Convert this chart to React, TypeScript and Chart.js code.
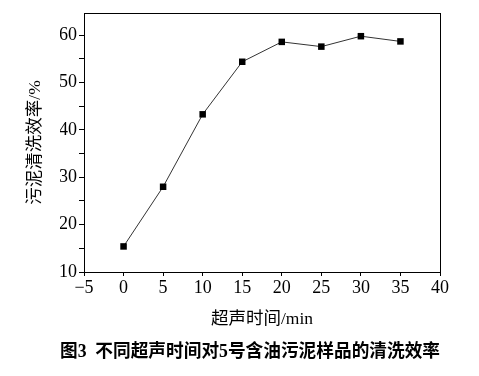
import React, { useEffect, useRef } from "react";
import { Chart, registerables } from "chart.js";

Chart.register(...registerables);

const times = [0, 5, 10, 15, 20, 25, 30, 35];
const efficiency = [15.4, 28.0, 43.3, 54.4, 58.6, 57.6, 59.8, 58.7];
const xTitle = "超声时间/min";
const yTitle = "污泥清洗效率/%";
const caption = "图3  不同超声时间对5号含油污泥样品的清洗效率";

const SERIF = '"Liberation Serif", "Noto Sans CJK SC", serif';
const CJK = '"Liberation Serif", "Noto Sans CJK SC", sans-serif';

export default function App() {
  const ref = useRef<HTMLCanvasElement | null>(null);

  useEffect(() => {
    if (!ref.current) return;
    const chart = new Chart(ref.current, {
      type: "line",
      data: {
        datasets: [
          {
            data: times.map((t, i) => ({ x: t, y: efficiency[i] })),
            borderColor: "#333",
            borderWidth: 1,
            pointStyle: "rect",
            pointRadius: 4.6,
            pointBackgroundColor: "#000",
            pointBorderColor: "#000",
            pointBorderWidth: 0,
            tension: 0,
          },
        ],
      },
      options: {
        animation: false,
        responsive: true,
        maintainAspectRatio: false,
        layout: { padding: { left: 60, right: 39, top: 13, bottom: 0 } },
        plugins: {
          legend: { display: false },
          tooltip: { enabled: false },
          title: {
            display: true,
            text: caption,
            position: "bottom",
            color: "#000",
            font: { family: CJK, size: 18.5, weight: "bold", lineHeight: 1.2 },
            padding: { top: 9, bottom: 13 },
          },
        },
        scales: {
          x: {
            type: "linear",
            position: "bottom",
            min: -5,
            max: 40,
            afterFit: (s: any) => {
              s.height = 59.8;
            },
            ticks: {
              stepSize: 5,
              color: "#000",
              font: { family: SERIF, size: 18 },
              padding: 1,
              maxRotation: 0,
              callback: (v: any) => (Number(v) < 0 ? "\u2212" + Math.abs(Number(v)) : String(v)),
            },
            grid: {
              drawOnChartArea: false,
              drawTicks: true,
              tickLength: 4,
              tickColor: "#000",
              tickWidth: 1,
            },
            border: { display: true, color: "#000", width: 1 },
            title: {
              display: true,
              text: xTitle,
              color: "#000",
              font: { family: CJK, size: 17.5, lineHeight: 1.2 },
              padding: { top: 0, bottom: 2 },
            },
          },
          y: {
            type: "linear",
            position: "left",
            min: 10,
            max: 64.7,
            afterFit: (s: any) => {
              s.width = 24;
            },
            ticks: {
              stepSize: 5,
              includeBounds: false,
              color: "#000",
              font: { family: SERIF, size: 18 },
              padding: 2,
              callback: (v: any) => (Number(v) % 10 === 0 ? String(v) : ""),
            },
            grid: {
              drawOnChartArea: false,
              drawTicks: true,
              tickLength: 5,
              tickColor: "#000",
              tickWidth: 1,
            },
            border: { display: true, color: "#000", width: 1 },
            title: {
              display: true,
              text: yTitle,
              color: "#000",
              font: { family: CJK, size: 17.5, lineHeight: 1.2 },
              padding: { top: -35.5, bottom: 0 },
            },
          },
          x2: {
            type: "linear",
            position: "top",
            min: -5,
            max: 40,
            afterFit: (s: any) => {
              s.height = 0;
            },
            ticks: { display: false },
            grid: { display: false, drawTicks: false },
            border: { display: true, color: "#000", width: 1 },
          },
          y2: {
            type: "linear",
            position: "right",
            min: 10,
            max: 64.7,
            afterFit: (s: any) => {
              s.width = 0;
            },
            ticks: { display: false },
            grid: { display: false, drawTicks: false },
            border: { display: true, color: "#000", width: 1 },
          },
        },
      },
    });
    return () => chart.destroy();
  }, []);

  return (
    <div
      style={{
        position: "fixed",
        left: 0,
        top: 0,
        width: 479,
        height: 376,
        background: "#fff",
      }}
    >
      <canvas ref={ref} />
    </div>
  );
}
